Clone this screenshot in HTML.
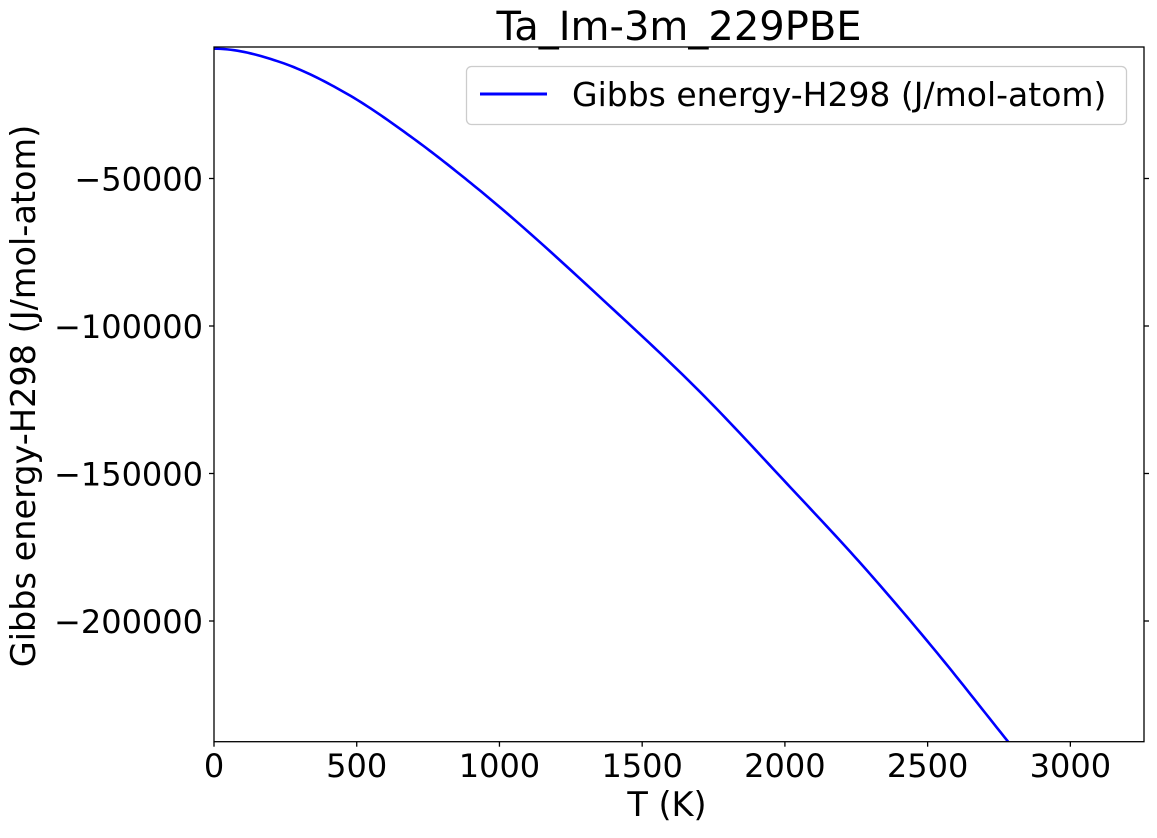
<!DOCTYPE html>
<html><head><meta charset="utf-8"><style>
body{margin:0;background:#fff;}
svg text{font-family:"DejaVu Sans","Liberation Sans",sans-serif;fill:#000;}
</style></head><body>
<svg id="chart" width="1157" height="833" xmlns="http://www.w3.org/2000/svg">
<rect width="1157" height="833" fill="#fff"/>
<text x="679" y="40" font-size="40" text-anchor="middle">Ta_Im-3m_229PBE</text>
<g id="plot"></g>
<text x="667" y="816" font-size="33.5" text-anchor="middle">T (K)</text>
<text transform="translate(35,396) rotate(-90)" font-size="33.5" text-anchor="middle">Gibbs energy-H298 (J/mol-atom)</text>
<g>
<rect x="466.5" y="66.5" width="660" height="58" rx="5" fill="#fff" stroke="#ccc" stroke-width="1.3"/>
<line x1="480" y1="94" x2="547" y2="94" stroke="#0000ff" stroke-width="3"/>
<text x="572" y="106" font-size="33">Gibbs energy-H298 (J/mol-atom)</text>
</g>
</svg>
<script>
const temps=[0,234,467,701,911,1401,1702,2006,2286,2520,2782];
const gibbs=[-6000,-10610,-21350,-36610,-52440,-94580,-122270,-153330,-182720,-209260,-240920];
const xTicks=[0,500,1000,1500,2000,2500,3000];
const yTicks=[-50000,-100000,-150000,-200000];
const yTickLabels=["\u221250000","\u2212100000","\u2212150000","\u2212200000"];
const L=214,R=1144,T=47,B=741.7,xMin=0,xMax=3258,yMin=-240915,yMax=-5424;
const NS="http://www.w3.org/2000/svg";
function xs(v){return L+(v-xMin)/(xMax-xMin)*(R-L);}
function ys(v){return B-(v-yMin)/(yMax-yMin)*(B-T);}
const g=document.getElementById('plot');
function mk(t,a){const e=document.createElementNS(NS,t);for(const k in a)e.setAttribute(k,a[k]);g.appendChild(e);return e;}
const clip=mk('clipPath',{id:'cp'});
const cr=document.createElementNS(NS,'rect');cr.setAttribute('x',L);cr.setAttribute('y',T-2);cr.setAttribute('width',R-L);cr.setAttribute('height',B-T+2);clip.appendChild(cr);
// cubic Hermite in data space; slope 0 at T=0
const n=temps.length,m=[];
for(let i=0;i<n;i++){
 if(i===0){m.push(0);continue;}
 if(i===n-1){m.push((gibbs[i]-gibbs[i-1])/(temps[i]-temps[i-1]));continue;}
 const s0=(gibbs[i]-gibbs[i-1])/(temps[i]-temps[i-1]),s1=(gibbs[i+1]-gibbs[i])/(temps[i+1]-temps[i]);
 const h0=temps[i]-temps[i-1],h1=temps[i+1]-temps[i];
 m.push((s0*h1+s1*h0)/(h0+h1));
}
let pts=[];
for(let i=0;i<n-1;i++){
 const h=temps[i+1]-temps[i];
 for(let k=0;k<20;k++){const t=k/20,t2=t*t,t3=t2*t;
  const v=(2*t3-3*t2+1)*gibbs[i]+(t3-2*t2+t)*h*m[i]+(-2*t3+3*t2)*gibbs[i+1]+(t3-t2)*h*m[i+1];
  pts.push(xs(temps[i]+t*h)+','+ys(v));}
}
pts.push(xs(temps[n-1])+','+ys(gibbs[n-1]));
const line=mk('polyline',{points:pts.join(' '),fill:'none',stroke:'#0000ff','stroke-width':2.6,'clip-path':'url(#cp)'});


const frame=mk('rect',{x:L,y:T,width:R-L,height:B-T,fill:'none',stroke:'#000','stroke-width':1.3});


xTicks.forEach(v=>{const x=xs(v);
 const tk=mk('line',{x1:x,y1:B,x2:x,y2:B+5,stroke:'#000','stroke-width':1.3});
 
 
 const t=mk('text',{x:x,y:777,'font-size':32,'text-anchor':'middle'});t.textContent=v;
 
 
});
yTicks.forEach((v,i)=>{const y=ys(v);
 const tk=mk('line',{x1:L-5,y1:y,x2:L,y2:y,stroke:'#000','stroke-width':1.3});
 
 
 const tk2=mk('line',{x1:R,y1:y,x2:R+5,y2:y,stroke:'#000','stroke-width':1.3});
 
 
 const t=mk('text',{x:L-11,y:y+12,'font-size':32,'text-anchor':'end'});t.textContent=yTickLabels[i];
 
 
});
</script>
</body></html>
